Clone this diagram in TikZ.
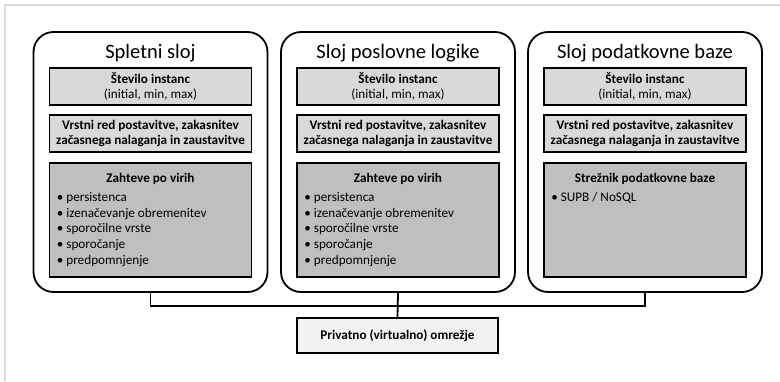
\documentclass[tikz,border=0pt]{standalone}
\usepackage{fontspec}
\setmainfont{Carlito}
\newcommand{\itembullet}{•\hspace{3pt}}
\begin{document}
\begin{tikzpicture}[x=1pt,y=-1pt,
  tier/.style={draw=black, line width=1.8pt, rounded corners=20pt,
    minimum width=234pt, minimum height=260pt, inner sep=0pt},
  tiertitle/.style={font=\fontsize{20.5}{24}\selectfont, inner sep=0pt},
  infobox/.style={draw=black, line width=1.8pt, fill=gray!30,
    minimum width=202pt, minimum height=37pt, inner sep=0pt, align=center,
    font=\fontsize{13.2}{15}\selectfont},
  reqbox/.style={draw=black, line width=1.8pt, fill=gray!50,
    minimum width=202pt, minimum height=114pt, inner sep=0pt},
  reqhead/.style={font=\bfseries\fontsize{13.2}{15}\selectfont, inner sep=0pt},
  reqlist/.style={font=\fontsize{13.2}{15.7}\selectfont, align=left,
    inner sep=0pt, anchor=north west},
  netbox/.style={draw=black, line width=1.8pt, fill=gray!10,
    minimum width=201pt, minimum height=35pt, inner sep=0pt,
    font=\bfseries\fontsize{13.2}{15}\selectfont},
  conn/.style={draw=black, line width=1.8pt}]

\useasboundingbox (0,0) rectangle (780,381);
% partial frame along the top and left edges
\draw[gray!30, line width=2pt] (5,381) -- (5,5) -- (780,5);

% the three tiers
\foreach \name/\cx/\title in {web/150.5/Spletni sloj, logic/398/Sloj poslovne logike, db/645/Sloj podatkovne baze}{
  \node[tier] (\name) at (\cx,162) {};
  \node[tiertitle] (\name-title) at (\cx,53) {\title};
  \node[infobox] (\name-inst) at (\cx,86.5)
    {\textbf{Število instanc}\\(initial, min, max)};
  \node[infobox, font=\bfseries\fontsize{13.2}{15}\selectfont] (\name-order) at (\cx,133.5)
    {Vrstni red postavitve, zakasnitev\\začasnega nalaganja in zaustavitve};
  \node[reqbox] (\name-req) at (\cx,220) {};
}

% resource requirements
\foreach \name in {web, logic}{
  \node[reqhead] (\name-reqhead) at ([yshift=-17pt]\name-req.north) {Zahteve po virih};
  \node[reqlist] (\name-reqlist) at ([xshift=8pt,yshift=-30pt]\name-req.north west)
    {\itembullet persistenca\\\itembullet izenačevanje obremenitev\\\itembullet sporočilne vrste\\\itembullet sporočanje\\\itembullet predpomnjenje};
}
\node[reqhead] (db-reqhead) at ([yshift=-17pt]db-req.north) {Strežnik podatkovne baze};
\node[reqlist] (db-reqlist) at ([xshift=8pt,yshift=-30pt]db-req.north west) {\itembullet SUPB / NoSQL};

% private network and its bus
\node[netbox] (net) at (397.5,335.5) {Privatno (virtualno) omrežje};
\path (web.south) ++(0,13) coordinate (busL);
\draw[conn] (web.south) -- (busL) -- (busL -| db.south) -- (db.south);
\draw[conn] (logic.south) -- (net.north);
\end{tikzpicture}
\end{document}
